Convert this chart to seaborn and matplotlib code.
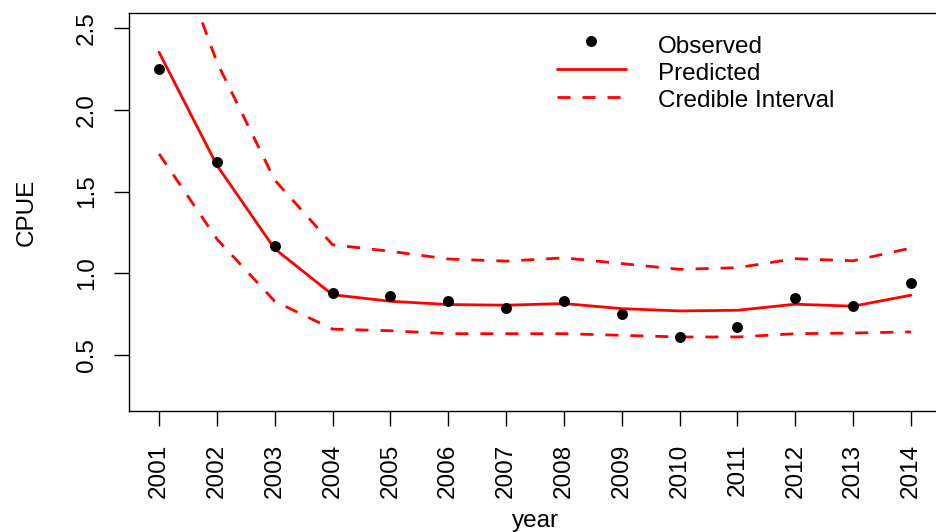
import matplotlib
matplotlib.use("Agg")
import matplotlib.pyplot as plt
import pandas as pd
import seaborn as sns

# CPUE series by year
years = [2001, 2002, 2003, 2004, 2005, 2006, 2007,
         2008, 2009, 2010, 2011, 2012, 2013, 2014]
observed = [2.25, 1.68, 1.17, 0.88, 0.86, 0.83, 0.79,
            0.83, 0.75, 0.61, 0.67, 0.85, 0.80, 0.94]
predicted = [2.35, 1.66, 1.15, 0.87, 0.83, 0.81, 0.806,
             0.816, 0.785, 0.771, 0.775, 0.812, 0.80, 0.867]
upper_ci = [3.25, 2.29, 1.57, 1.175, 1.135, 1.088, 1.075,
            1.095, 1.06, 1.025, 1.035, 1.09, 1.077, 1.155]
lower_ci = [1.73, 1.21, 0.83, 0.66, 0.65, 0.632, 0.632,
            0.632, 0.622, 0.612, 0.612, 0.632, 0.636, 0.643]

y_ticks = [0.5, 1.0, 1.5, 2.0, 2.5]
y_tick_labels = ["0.5", "1.0", "1.5", "2.0", "2.5"]
legend_labels = ["Observed", "Predicted", "Credible Interval"]

sns.set_theme(style="ticks")
plt.rcParams["font.family"] = ["Liberation Sans", "DejaVu Sans"]
plt.rcParams["text.color"] = "black"
plt.rcParams["axes.labelcolor"] = "black"

df = pd.DataFrame({
    "year": years,
    "observed": observed,
    "predicted": predicted,
    "upper": upper_ci,
    "lower": lower_ci,
})

RED = "#FF0000"
LW = 2.0
DASH = (0, (4.7, 4.3))
FS = 17.5

W, H = 936, 532
fig = plt.figure(figsize=(W / 100, H / 100), dpi=100)
ax = fig.add_axes([129 / W, 1 - 411 / H, 812 / W, 398 / H])

sns.lineplot(data=df, x="year", y="upper", color=RED, lw=LW,
             linestyle=DASH, estimator=None, ax=ax)
sns.lineplot(data=df, x="year", y="lower", color=RED, lw=LW,
             linestyle=DASH, estimator=None, ax=ax)
sns.lineplot(data=df, x="year", y="predicted", color=RED, lw=LW,
             estimator=None, ax=ax)
sns.scatterplot(data=df, x="year", y="observed", color="black", s=62,
                linewidth=0, ax=ax, zorder=5)

ax.set_xlim(2000.48, 2014.52)
ax.set_ylim(0.16, 2.59)

ax.set_xticks(years)
ax.set_xticklabels([str(y) for y in years], rotation=90)
ax.set_yticks(y_ticks)
ax.set_yticklabels(y_tick_labels, rotation=90, va="center")

ax.tick_params(axis="both", length=10.8, width=1.0, color="black",
               labelsize=FS, labelcolor="black")
ax.tick_params(axis="x", pad=13)
ax.tick_params(axis="y", pad=11.5)

for sp in ax.spines.values():
    sp.set_color("black")
    sp.set_linewidth(1.0)

ax.set_xlabel("year", fontsize=FS)
ax.set_ylabel("CPUE", fontsize=FS)
ax.xaxis.set_label_coords(0.5, -0.249)
ax.yaxis.set_label_coords(-0.112, 0.5)


def fx(px):
    return (px - 129) / 812


def fy(py):
    return (411 - py) / 398


# legend keys and labels, no frame
tr = ax.transAxes
ax.plot([fx(591)], [fy(41)], "o", color="black", ms=7.9, mew=0,
        transform=tr, clip_on=False)
ax.plot([fx(557), fx(626)], [fy(69), fy(69)], color=RED, lw=LW,
        transform=tr, clip_on=False)
ax.plot([fx(557), fx(626)], [fy(96.5), fy(96.5)], color=RED, lw=LW,
        linestyle=DASH, transform=tr, clip_on=False)
for label, base in zip(legend_labels, [53.3, 80.0, 107.3]):
    ax.text(fx(658), fy(base), label, transform=tr, fontsize=FS,
            ha="left", va="baseline")

fig.savefig("out.png", dpi=100)
